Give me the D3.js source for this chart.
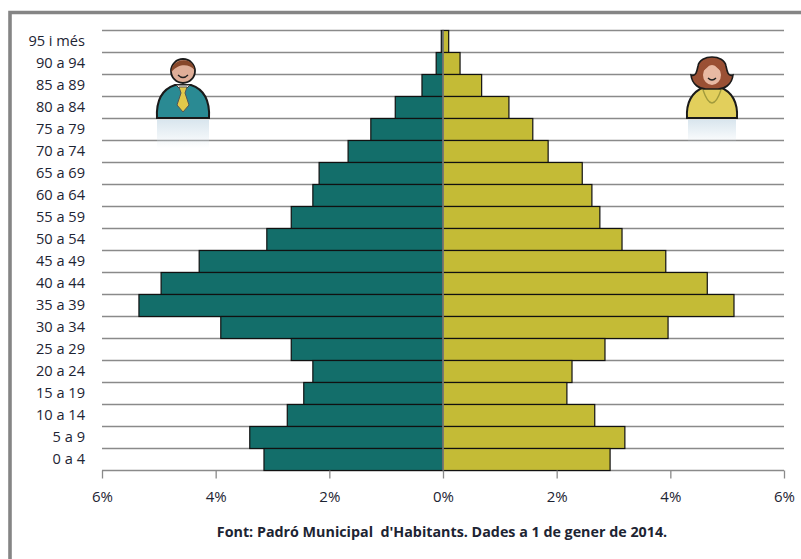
<!DOCTYPE html>
<html>
<head>
<meta charset="utf-8">
<title>Piràmide de població</title>
<script src="https://d3js.org/d3.v7.min.js"></script>
<style>
  html, body { margin: 0; padding: 0; background: #fff; }
  svg { display: block; }
  text { font-family: "Open Sans", sans-serif; fill: #1d2433; }
  .axis path { display: none; }
  .grid line { stroke: #8a8a8a; stroke-width: 1.3px; }
  .xaxis line { stroke: #8a8a8a; stroke-width: 1.3px; }
  .bar { stroke: #111; stroke-width: 1.2px; }
</style>
</head>
<body>
<svg id="chart" width="801" height="559"></svg>
<script>
// franges d'edat, de dalt a baix
var ages = ["95 i més","90 a 94","85 a 89","80 a 84","75 a 79","70 a 74","65 a 69","60 a 64","55 a 59","50 a 54",
            "45 a 49","40 a 44","35 a 39","30 a 34","25 a 29","20 a 24","15 a 19","10 a 14","5 a 9","0 a 4"];
var men   = [0.03,0.12,0.37,0.84,1.27,1.67,2.18,2.29,2.67,3.10,4.29,4.96,5.35,3.91,2.67,2.29,2.45,2.74,3.40,3.15];
var women = [0.10,0.30,0.68,1.16,1.58,1.85,2.45,2.62,2.76,3.15,3.92,4.65,5.12,3.96,2.85,2.27,2.18,2.67,3.20,2.94];
var xTicks = [-6,-4,-2,0,2,4,6];
var source = "Font: Padró Municipal  d'Habitants. Dades a 1 de gener de 2014.";

var svg = d3.select("#chart");

// degradat per als reflexos de les icones
var fade = svg.append("defs").append("linearGradient")
   .attr("id", "fade").attr("x1", 0).attr("y1", 0).attr("x2", 0).attr("y2", 1);
fade.append("stop").attr("offset", "0%").attr("stop-color", "#d5e3ec").attr("stop-opacity", 0.9);
fade.append("stop").attr("offset", "100%").attr("stop-color", "#d5e3ec").attr("stop-opacity", 0);

// marc gris
svg.append("path")
   .attr("d", "M10,559V12.5H801")
   .attr("fill", "none")
   .attr("stroke", "#858585")
   .attr("stroke-width", 3.6);

var x = d3.scaleLinear().domain([-6, 6]).range([102, 784]);
var y = d3.scaleBand().domain(ages).range([30.5, 470.5]).padding(0);

// linies horitzontals
svg.append("g").attr("class", "grid")
   .selectAll("line")
   .data(ages.concat(["end"]))
   .enter().append("line")
   .attr("x1", x(-6))
   .attr("x2", x(6))
   .attr("y1", function(d, i) { return 30.5 + i * y.step(); })
   .attr("y2", function(d, i) { return 30.5 + i * y.step(); });

// icones
var man = svg.append("g").attr("transform", "translate(183,118)");
man.append("path").attr("d", "M-26,0C-27,-18 -20,-29 -8,-33L8,-33C20,-29 27,-18 26,0Z")
   .attr("fill", "#2a8a93").attr("stroke", "#1a1a1a").attr("stroke-width", 2);
man.append("path").attr("d", "M-7,-33L7,-33L0,-26Z").attr("fill", "#f4f4ee").attr("stroke", "#333");
man.append("path").attr("d", "M-4,-31L4,-31L2,-25L6,-13L0,-6L-6,-13L-2,-25Z")
   .attr("fill", "#e2c94a").attr("stroke", "#555").attr("stroke-width", 1);
man.append("circle").attr("cx", 0).attr("cy", -47).attr("r", 12)
   .attr("fill", "#dfae98").attr("stroke", "#1a1a1a").attr("stroke-width", 1.8);
man.append("path").attr("d", "M-11.5,-46C-13,-58 9,-64 11.5,-48C7,-53 -3,-56 -11.5,-46Z").attr("fill", "#87472a");
man.append("path").attr("d", "M-5,-43Q0,-38 5,-43").attr("fill", "none").attr("stroke", "#222").attr("stroke-width", 1.3);
man.append("rect").attr("x", -26).attr("y", 2).attr("width", 52).attr("height", 28).attr("fill", "url(#fade)");

var woman = svg.append("g").attr("transform", "translate(712,118)");
woman.append("path").attr("d", "M-25,0C-26,-16 -20,-26 -8,-31L8,-31C20,-26 26,-16 25,0Z")
   .attr("fill", "#e2cf5c").attr("stroke", "#1a1a1a").attr("stroke-width", 2);
woman.append("path").attr("d", "M-9,-28Q0,-2 9,-28").attr("fill", "none").attr("stroke", "#a09a3c").attr("stroke-width", 1.4);
woman.append("path").attr("d", "M-21,-43C-16,-41 -15,-47 -14,-52C-12,-64 12,-64 14,-52C15,-47 16,-41 21,-43C20,-33 12,-29 6,-29L-6,-29C-12,-29 -20,-33 -21,-43Z")
   .attr("fill", "#9a5034").attr("stroke", "#1a1a1a").attr("stroke-width", 1.6);
woman.append("ellipse").attr("cx", 0).attr("cy", -43).attr("rx", 9).attr("ry", 10).attr("fill", "#e8b9a3");
woman.append("path").attr("d", "M-9,-47C-5,-50 -2,-53 0,-56C2,-53 5,-50 9,-47C6,-57 -6,-57 -9,-47Z").attr("fill", "#9a5034");
woman.append("path").attr("d", "M-4,-40Q0,-36 4,-40").attr("fill", "none").attr("stroke", "#222").attr("stroke-width", 1.3);
woman.append("rect").attr("x", -24).attr("y", 2).attr("width", 48).attr("height", 24).attr("fill", "url(#fade)");

// barres homes
svg.append("g").selectAll("rect")
   .data(men)
   .enter().append("rect")
   .attr("class", "bar")
   .attr("x", function(d) { return x(-d); })
   .attr("y", function(d, i) { return y(ages[i]); })
   .attr("width", function(d) { return x(0) - x(-d); })
   .attr("height", y.bandwidth())
   .attr("fill", "#136e6a");

// barres dones
svg.append("g").selectAll("rect")
   .data(women)
   .enter().append("rect")
   .attr("class", "bar")
   .attr("x", x(0))
   .attr("y", function(d, i) { return y(ages[i]); })
   .attr("width", function(d) { return x(d) - x(0); })
   .attr("height", y.bandwidth())
   .attr("fill", "#c4bb36");

// eix central
svg.append("line")
   .attr("x1", x(0)).attr("x2", x(0))
   .attr("y1", 30.5).attr("y2", 470.5)
   .attr("stroke", "#8a8a8a").attr("stroke-width", 1.5);

// eix x
var xAxis = d3.axisBottom(x)
   .tickValues(xTicks)
   .tickSize(8)
   .tickPadding(13)
   .tickFormat(function(d) { return Math.abs(d) + "%"; });
var gx = svg.append("g").attr("class", "axis xaxis")
   .attr("transform", "translate(0,470.5)")
   .call(xAxis);
gx.selectAll("text").attr("font-size", "15px").style("font-family", '"Open Sans", sans-serif');

// eix y
var yAxis = d3.axisLeft(y).tickSize(0).tickPadding(17);
var gy = svg.append("g").attr("class", "axis")
   .attr("transform", "translate(102,0)")
   .call(yAxis);
gy.selectAll("text").attr("font-size", "14.6px").style("font-family", '"Open Sans", sans-serif');

// font
svg.append("text")
   .attr("x", 442)
   .attr("y", 536.5)
   .attr("text-anchor", "middle")
   .attr("font-size", "14.3px")
   .attr("font-weight", "bold")
   .style("white-space", "pre")
   .text(source);
</script>
</body>
</html>
